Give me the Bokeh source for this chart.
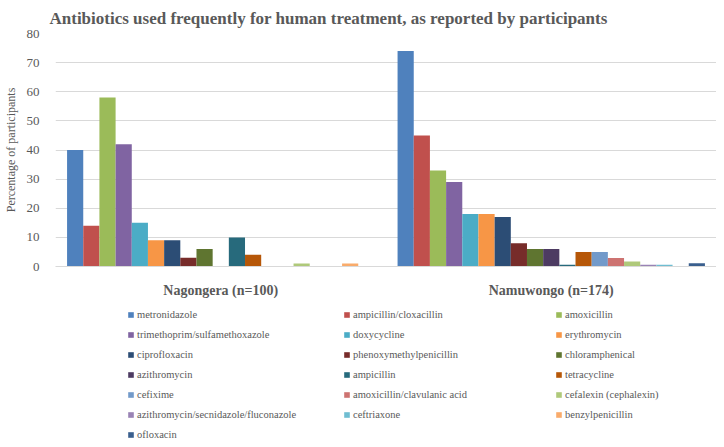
from bokeh.plotting import figure
from bokeh.layouts import column
from bokeh.models import (ColumnDataSource, FactorRange, Range1d,
                          FixedTicker, Legend, LegendItem)
from bokeh.transform import dodge
from bokeh.embed import file_html
from bokeh.resources import INLINE

title_text = "Antibiotics used frequently for human treatment, as reported by participants"
y_label = "Percentage of participants"
groups = ["Nagongera (n=100)", "Namuwongo (n=174)"]
drugs = [
    "metronidazole", "ampicillin/cloxacillin", "amoxicillin",
    "trimethoprim/sulfamethoxazole", "doxycycline", "erythromycin",
    "ciprofloxacin", "phenoxymethylpenicillin", "chloramphenical",
    "azithromycin", "ampicillin", "tetracycline",
    "cefixime", "amoxicillin/clavulanic acid", "cefalexin (cephalexin)",
    "azithromycin/secnidazole/fluconazole", "ceftriaxone", "benzylpenicillin",
    "ofloxacin",
]
nagongera = [40, 14, 58, 42, 15, 9, 9, 3, 6, 0, 10, 4, 0, 0, 1, 0, 0, 1, 0]
namuwongo = [74, 45, 33, 29, 18, 18, 17, 8, 6, 6, 0.6, 5, 5, 2.9, 1.7, 0.6, 0.6, 0, 1.1]
colors = [
    "#4F81BD", "#C0504D", "#9BBB59", "#8064A2", "#4BACC6", "#F79646",
    "#2C4D75", "#772C2A", "#5F7530", "#4D3B62", "#276A7C", "#B65708",
    "#729ACA", "#CD7371", "#AFC97A", "#9983B5", "#6FBDD1", "#F9AB6B",
    "#3A5F8E",
]
y_ticks = [0, 10, 20, 30, 40, 50, 60, 70, 80]

SERIF = "Liberation Serif"
GREY = "#595959"

data = {"group": groups}
for i in range(len(drugs)):
    data[f"s{i}"] = [nagongera[i], namuwongo[i]]
source = ColumnDataSource(data)

# ---------------- main chart ----------------
p = figure(width=716, height=300,
           x_range=FactorRange(*groups, range_padding=0),
           y_range=Range1d(0, 80),
           output_backend="svg", toolbar_location=None,
           min_border_left=42, min_border_right=0,
           min_border_top=33, min_border_bottom=32)
p.outline_line_color = None

p.title.text = title_text
p.title.align = "left"
p.title.offset = -6
p.title.text_font = SERIF
p.title.text_font_style = "bold"
p.title.text_font_size = "17px"
p.title.text_color = GREY
try:
    p.title.standoff = 11
except Exception:
    pass

yax = p.yaxis[0]
yax.ticker = FixedTicker(ticks=y_ticks)
yax.axis_line_color = None
yax.major_tick_line_color = None
yax.minor_tick_line_color = None
yax.major_label_text_font = SERIF
yax.major_label_text_font_size = "13px"
yax.major_label_text_color = GREY
yax.major_label_standoff = 10
yax.axis_label = y_label
yax.axis_label_text_font = SERIF
yax.axis_label_text_font_style = "normal"
yax.axis_label_text_font_size = "12px"
yax.axis_label_text_color = GREY
yax.axis_label_standoff = 6
p.ygrid.grid_line_color = "#D9D9D9"
p.xgrid.grid_line_color = None

xax = p.xaxis[0]
xax.axis_line_color = "#D9D9D9"
xax.major_tick_line_color = None
xax.minor_tick_line_color = None
xax.major_label_text_font = SERIF
xax.major_label_text_font_style = "bold"
xax.major_label_text_font_size = "14px"
xax.major_label_text_color = GREY
xax.major_label_standoff = 10

n = len(drugs)
w = 0.93 / n
for i in range(n):
    p.vbar(x=dodge("group", (i - (n - 1) / 2) * w, range=p.x_range),
           top=f"s{i}", width=w, source=source,
           fill_color=colors[i], line_color=None)

# ---------------- legend panel ----------------
# same series as hidden renderers, so only their legend swatches show
q = figure(width=716, height=139,
           x_range=FactorRange(*groups, range_padding=0), y_range=Range1d(0, 80),
           output_backend="svg", toolbar_location=None,
           x_axis_type=None, y_axis_type=None,
           min_border_left=0, min_border_right=0,
           min_border_top=0, min_border_bottom=0)
q.outline_line_color = None
q.xgrid.visible = False
q.ygrid.visible = False

swatches = []
for i in range(n):
    r = q.vbar(x=dodge("group", (i - (n - 1) / 2) * w, range=q.x_range),
               top=f"s{i}", width=w, source=source,
               fill_color=colors[i], line_color=None)
    r.visible = False
    swatches.append(r)

ncols = 3
col_x = [72, 288, 500]
row_h, row_gap, top_gap = 14, 6, 7
for c in range(ncols):
    idx = list(range(c, n, ncols))
    h = len(idx) * row_h + (len(idx) - 1) * row_gap
    leg = Legend(items=[LegendItem(label=drugs[i], renderers=[swatches[i]]) for i in idx],
                 orientation="vertical",
                 location=(col_x[c], q.height - top_gap - h),
                 border_line_color=None, background_fill_alpha=0,
                 inactive_fill_alpha=0,
                 label_text_font=SERIF, label_text_font_size="10.5px",
                 label_text_color=GREY, glyph_width=7, glyph_height=7,
                 label_standoff=3, label_height=row_h,
                 spacing=row_gap, padding=0, margin=0)
    q.add_layout(leg, "center")

layout = column(p, q, spacing=0)
open("out.html", "w").write(file_html(layout, INLINE))
